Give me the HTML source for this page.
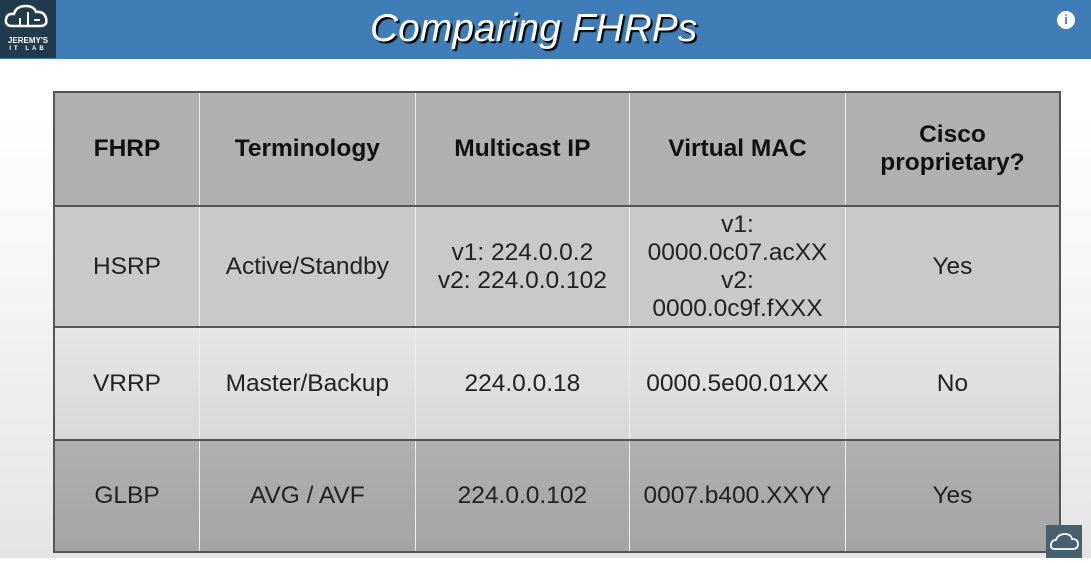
<!DOCTYPE html>
<html><head><style>
*{margin:0;padding:0;box-sizing:border-box}
body{width:1091px;height:558px;overflow:hidden;position:relative;font-family:"Liberation Sans",sans-serif;background:linear-gradient(#fff 0,#fff 120px,#e4e4e4 558px)}
.hdr{position:absolute;left:0;top:0;width:1091px;height:59px;background:#3f7db8}
.logo{position:absolute;left:0;top:0;width:56px;height:58px;background:#1f3b4d;color:#fff;font-weight:bold;text-align:center}
.title{position:absolute;left:370px;top:7px;font-size:39px;font-style:italic;color:#fff;text-shadow:2px 2px 1px #000;font-family:"Liberation Sans",sans-serif;white-space:nowrap}
.info{position:absolute;left:1057px;top:11px;width:18px;height:18px;border-radius:50%;background:#fff;color:#3f7db8;font-size:13px;font-weight:bold;text-align:center;line-height:18px}
table{position:absolute;left:53px;top:91px;width:1008px;height:460px;border-collapse:collapse;border:2px solid #555}
td{text-align:center;vertical-align:middle;font-size:24.5px;color:#222;border-left:1px solid #eee;border-right:1px solid #eee;line-height:28px}
tr{border-bottom:2px solid #555}
.h td{background:#b0b0b0;font-weight:bold;color:#111;height:114px}
.r1 td{background:#c9c9c9;height:121px}
.r2 td{background:linear-gradient(#e6e6e6,#d8d8d8);height:113px}
.r3 td{background:linear-gradient(#b0b0b0,#a4a4a4);height:112px}
.br{position:absolute;left:1046px;top:525px;width:36px;height:33px;background:#46606f}
</style></head><body>
<div class="hdr"></div>
<div class="logo">
<svg width="56" height="34" viewBox="0 0 56 34"><path d="M12 26 Q5 26 6 19 Q7 13 14 14 Q16 6 26 6 Q34 6 36 12 Q44 11 46 18 Q48 26 40 26 Z" fill="none" stroke="#fff" stroke-width="2.5"/><path d="M20 26 V18 M28 26 V12 M34 20 H40" stroke="#fff" stroke-width="2"/></svg>
<div style="font-size:8px;line-height:8px;margin-top:-2px">JEREMY'S</div><div style="font-size:6px;letter-spacing:3px;line-height:9px">IT LAB</div></div>
<div class="title">Comparing FHRPs</div>
<div class="info">i</div>
<table>
<colgroup><col style="width:146px"><col style="width:216px"><col style="width:215px"><col style="width:216px"><col style="width:215px"></colgroup>
<tr class="h"><td>FHRP</td><td>Terminology</td><td>Multicast IP</td><td>Virtual MAC</td><td>Cisco<br>proprietary?</td></tr>
<tr class="r1"><td>HSRP</td><td>Active/Standby</td><td>v1: 224.0.0.2<br>v2: 224.0.0.102</td><td>v1:<br>0000.0c07.acXX<br>v2:<br>0000.0c9f.fXXX</td><td>Yes</td></tr>
<tr class="r2"><td>VRRP</td><td>Master/Backup</td><td>224.0.0.18</td><td>0000.5e00.01XX</td><td>No</td></tr>
<tr class="r3"><td>GLBP</td><td>AVG / AVF</td><td>224.0.0.102</td><td>0007.b400.XXYY</td><td>Yes</td></tr>
</table>
<div class="br"><svg width="36" height="33" viewBox="0 0 36 33"><path d="M9 24 Q4 24 5 19 Q6 15 10 15 Q12 9 19 9 Q25 9 26 14 Q32 14 32 19 Q32 24 27 24 Z" fill="none" stroke="#fff" stroke-width="1.8"/></svg></div>
</body></html>
